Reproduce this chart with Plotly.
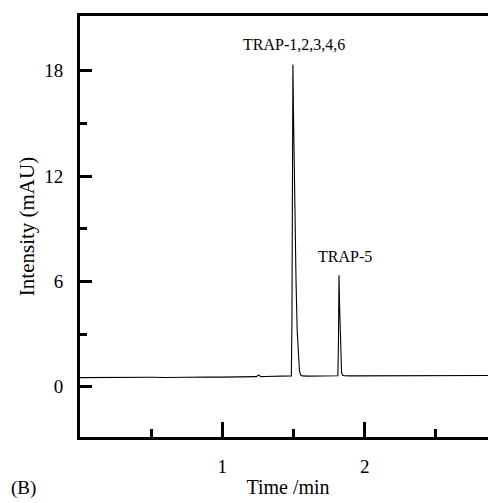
import plotly.graph_objects as go

# Chromatogram trace (time in min, intensity in mAU)
time_min = [0.00, 0.10, 0.20, 0.30, 0.40, 0.50, 0.60, 0.70, 0.80, 0.90, 1.00, 1.10,
            1.20, 1.24, 1.255, 1.262, 1.27, 1.30, 1.35, 1.40, 1.45, 1.48, 1.485,
            1.489, 1.492, 1.496, 1.500, 1.505, 1.510, 1.518, 1.526, 1.534, 1.542,
            1.550, 1.56, 1.60, 1.65, 1.70, 1.75, 1.80, 1.812, 1.816, 1.818, 1.820,
            1.824, 1.828, 1.833, 1.838, 1.845, 1.86, 1.90, 2.00, 2.10, 2.20, 2.30,
            2.40, 2.50, 2.60, 2.70, 2.80, 2.93]
intensity = [0.52, 0.53, 0.52, 0.54, 0.53, 0.54, 0.53, 0.55, 0.54, 0.56, 0.55, 0.56,
             0.57, 0.58, 0.68, 0.60, 0.58, 0.59, 0.60, 0.59, 0.60, 0.60, 0.62,
             3.5, 11.0, 18.35, 15.6, 12.4, 9.2, 6.0, 3.2, 1.6, 0.9,
             0.68, 0.62, 0.61, 0.62, 0.61, 0.62, 0.62, 0.63, 2.5, 5.0, 6.35,
             4.6, 2.9, 1.4, 0.8, 0.66, 0.63, 0.62, 0.62, 0.63, 0.62, 0.63,
             0.62, 0.63, 0.63, 0.64, 0.63, 0.64]

y_major = [0, 6, 12, 18]
y_minor = [3, 9, 15]
x_major = [1, 2]
x_minor = [0.5, 1.5, 2.5]

peak_labels = ["TRAP-1,2,3,4,6", "TRAP-5"]
peak_label_x = [1.505, 1.865]
peak_label_y = [19.5, 7.4]

font_family = "Liberation Serif, Times New Roman, serif"

fig = go.Figure()
fig.add_trace(go.Scatter(x=time_min, y=intensity, mode="lines",
                         line=dict(color="black", width=1.1),
                         showlegend=False, hoverinfo="skip"))

for txt, px, py in zip(peak_labels, peak_label_x, peak_label_y):
    fig.add_annotation(x=px, y=py, xref="x", yref="y", text=txt, showarrow=False,
                       font=dict(family=font_family, size=16, color="black"))

fig.add_annotation(x=0.0, y=0.0, xref="paper", yref="paper", text="(B)",
                   showarrow=False, xanchor="left", yanchor="bottom",
                   xshift=-71, yshift=-64,
                   font=dict(family=font_family, size=19, color="black"))

fig.update_layout(
    width=496, height=503,
    margin=dict(l=72, r=8, t=5, b=74),
    paper_bgcolor="white", plot_bgcolor="white",
    font=dict(family=font_family, size=18, color="black"),
    xaxis=dict(range=[0, 2.923], showgrid=False, zeroline=False,
               showline=True, linecolor="black", linewidth=3, mirror=True,
               tickmode="array", tickvals=x_major, ticktext=[str(v) for v in x_major],
               ticks="inside", ticklen=15, tickwidth=2.5, tickcolor="black",
               minor=dict(tickmode="array", tickvals=x_minor, ticks="inside",
                          ticklen=8, tickwidth=2.5, tickcolor="black", showgrid=False),
               tickfont=dict(family=font_family, size=19),
               ticklabelstandoff=10,
               title=dict(text="Time /min", standoff=5,
                          font=dict(family=font_family, size=20))),
    yaxis=dict(range=[-2.86, 21.12], showgrid=False, zeroline=False,
               showline=True, linecolor="black", linewidth=3, mirror=False,
               tickmode="array", tickvals=y_major, ticktext=[str(v) for v in y_major],
               ticks="inside", ticklen=12, tickwidth=2.5, tickcolor="black",
               minor=dict(tickmode="array", tickvals=y_minor, ticks="inside",
                          ticklen=7, tickwidth=2.5, tickcolor="black", showgrid=False),
               tickfont=dict(family=font_family, size=19),
               ticklabelstandoff=10,
               title=dict(text="Intensity (mAU)", standoff=4,
                          font=dict(family=font_family, size=21))),
)

fig.write_html("out.html")
